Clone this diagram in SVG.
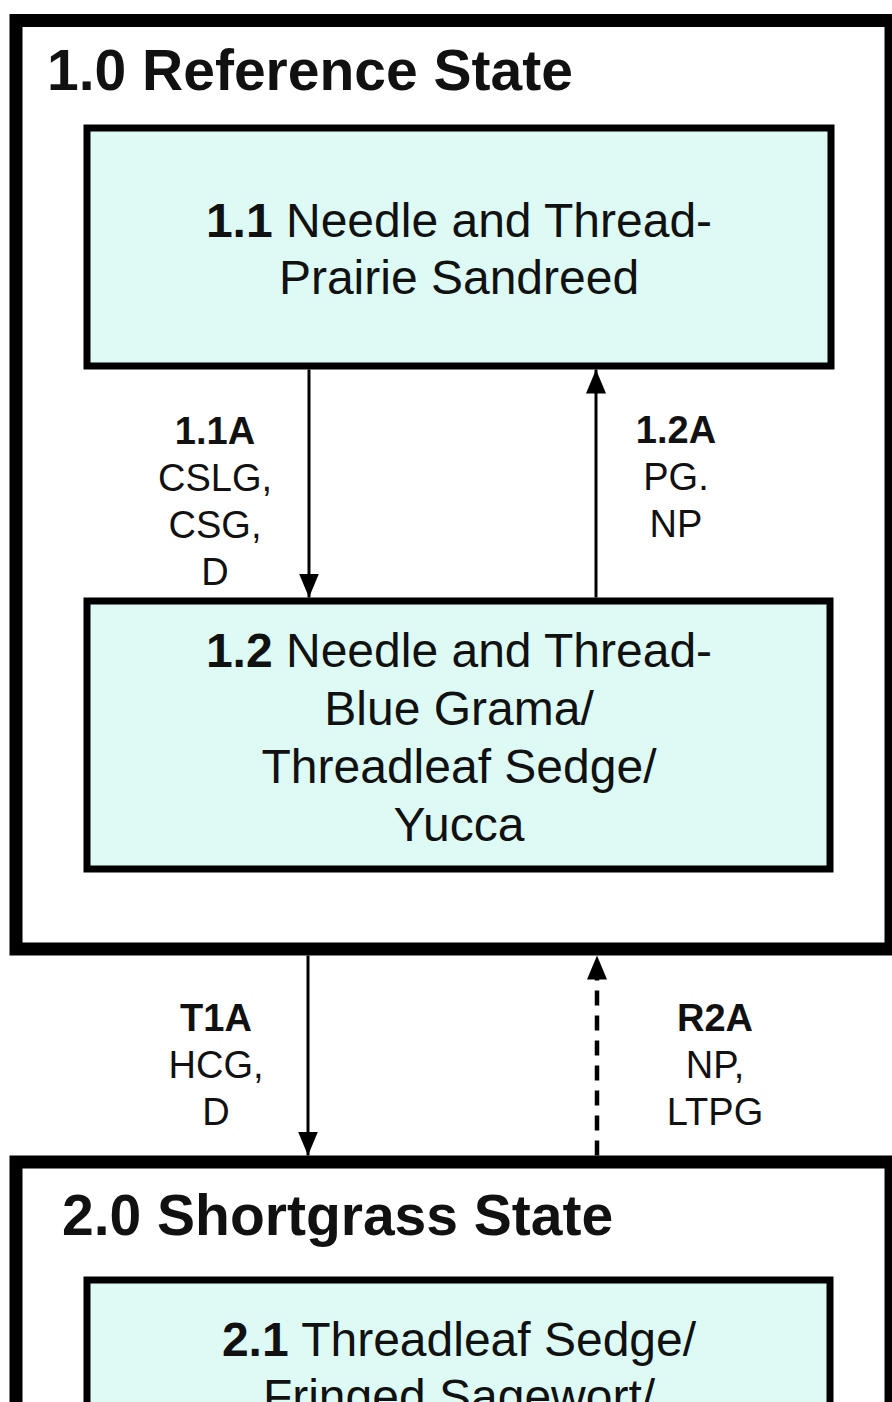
<svg xmlns="http://www.w3.org/2000/svg" width="892" height="1402" viewBox="0 0 892 1402">
<style>
text{font-family:"Liberation Sans",Arial,sans-serif;fill:#111}
.state{fill:#fff;stroke:#000;stroke-width:13}
.comm{fill:#ddfbf4;stroke:#000;stroke-width:7}
.title{font-size:57px;font-weight:bold}
.box{font-size:48px;text-anchor:middle}
.lab{font-size:38px;text-anchor:middle}
.b{font-weight:bold}
.arr{stroke:#000;stroke-width:3;fill:none}
.dash{stroke:#000;stroke-width:4.5;fill:none;stroke-dasharray:15 10}
</style>
<defs>
<marker id="ah" markerUnits="userSpaceOnUse" markerWidth="24" markerHeight="20" viewBox="0 0 24 20" refX="24" refY="10" orient="auto">
<path d="M0,0 L24,10 L0,20 Z" fill="#000"/>
</marker>
</defs>
<rect width="892" height="1402" fill="#fff"/>
<g id="state1">
<rect class="state" x="16" y="20.5" width="875" height="928.5"/>
<text class="title" x="47" y="90">1.0 Reference State</text>
</g>
<g id="c11">
<rect class="comm" x="87" y="128" width="744" height="238"/>
<text class="box" x="459" y="237"><tspan class="b">1.1</tspan> Needle and Thread-</text>
<text class="box" x="459" y="294">Prairie Sandreed</text>
</g>
<g id="c12">
<rect class="comm" x="87" y="601" width="743" height="268"/>
<text class="box" x="459" y="667"><tspan class="b">1.2</tspan> Needle and Thread-</text>
<text class="box" x="459" y="725">Blue Grama/</text>
<text class="box" x="459" y="783">Threadleaf Sedge/</text>
<text class="box" x="459" y="841">Yucca</text>
</g>
<g id="state2">
<rect class="state" x="16" y="1162" width="875" height="320"/>
<text class="title" x="62" y="1235">2.0 Shortgrass State</text>
</g>
<g id="c21">
<rect class="comm" x="87" y="1280" width="743" height="200"/>
<text class="box" x="459" y="1356"><tspan class="b">2.1</tspan> Threadleaf Sedge/</text>
<text class="box" x="459" y="1413">Fringed Sagewort/</text>
</g>
<g id="connectors">
<line class="arr" x1="309" y1="369.5" x2="309" y2="597.5" marker-end="url(#ah)"/>
<line class="arr" x1="596" y1="597.5" x2="596" y2="369.5" marker-end="url(#ah)"/>
<line class="arr" x1="308" y1="955.5" x2="308" y2="1155.5" marker-end="url(#ah)"/>
<line class="dash" x1="597" y1="1155.5" x2="597" y2="955.5" marker-end="url(#ah)"/>
</g>
<g id="labels">
<text class="lab b" x="215" y="444">1.1A</text>
<text class="lab" x="215" y="491">CSLG,</text>
<text class="lab" x="215" y="538">CSG,</text>
<text class="lab" x="215" y="585">D</text>
<text class="lab b" x="676" y="443">1.2A</text>
<text class="lab" x="676" y="490">PG.</text>
<text class="lab" x="676" y="537">NP</text>
<text class="lab b" x="216" y="1031">T1A</text>
<text class="lab" x="216" y="1078">HCG,</text>
<text class="lab" x="216" y="1125">D</text>
<text class="lab b" x="715" y="1031">R2A</text>
<text class="lab" x="715" y="1078">NP,</text>
<text class="lab" x="715" y="1125">LTPG</text>
</g>
</svg>
